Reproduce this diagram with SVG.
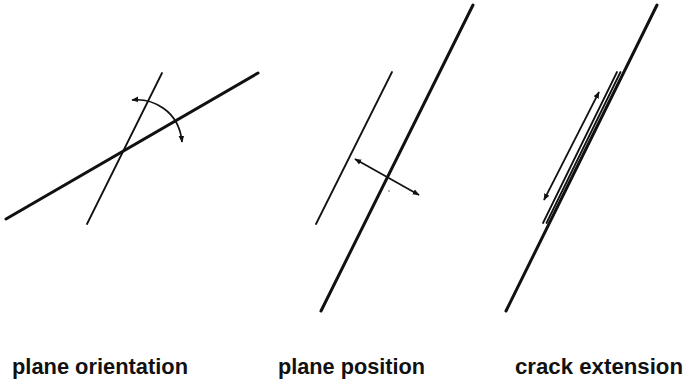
<svg xmlns="http://www.w3.org/2000/svg" width="686" height="382" viewBox="0 0 686 382">
<style>
.thick{stroke:#111;stroke-width:3;stroke-linecap:round;fill:none}
.thin{stroke:#111;stroke-width:1.8;stroke-linecap:round;fill:none}
.arr{stroke:#111;stroke-width:1.7;fill:none;marker-start:url(#ah);marker-end:url(#ah)}
.lbl{font-family:"Liberation Sans",Arial,sans-serif;font-weight:bold;font-size:22px;fill:#111}
</style>
<defs>
<marker id="ah" viewBox="0 0 10 10" refX="9" refY="5" markerWidth="7" markerHeight="7" markerUnits="userSpaceOnUse" orient="auto-start-reverse">
<path d="M0,1 L10,5 L0,9 z" fill="#111"/>
</marker>
</defs>
<rect width="686" height="382" fill="#fff"/>
<g id="orientation">
<line class="thick" x1="6" y1="219" x2="258" y2="73"/>
<line class="thin" x1="87" y1="224" x2="162" y2="73"/>
</g>
<g id="position">
<line class="thick" x1="321" y1="311" x2="473" y2="5"/>
<line class="thin" x1="316" y1="224" x2="392" y2="72"/>
<circle cx="389" cy="191" r="0.8" fill="#555"/>
</g>
<g id="crack">
<line class="thick" x1="506" y1="311" x2="657" y2="5"/>
<line class="thin" x1="543" y1="223" x2="617" y2="72"/>
<line class="thin" x1="546.5" y1="223" x2="620.5" y2="72"/>
</g>
<g id="connectors">
<path class="arr" d="M132,100 C152,98 179,110 182,142"/>
<line class="arr" x1="355" y1="159" x2="419" y2="195"/>
<line class="arr" x1="544" y1="200" x2="599" y2="92"/>
</g>
<g id="labels">
<text class="lbl" x="12" y="374" textLength="176" lengthAdjust="spacingAndGlyphs">plane orientation</text>
<text class="lbl" x="278" y="374" textLength="147" lengthAdjust="spacingAndGlyphs">plane position</text>
<text class="lbl" x="515" y="374" textLength="168" lengthAdjust="spacingAndGlyphs">crack extension</text>
</g>
</svg>
